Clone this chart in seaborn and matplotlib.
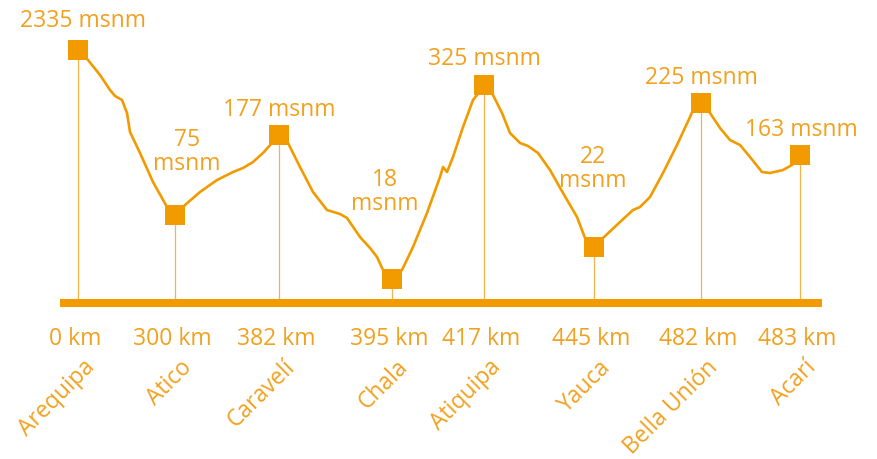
import pandas as pd
import matplotlib
matplotlib.use("Agg")
import matplotlib.pyplot as plt
import seaborn as sns

# ==========================================
# DATA
# ==========================================

places = ["Arequipa", "Atico", "Caravelí", "Chala", "Atiquipa", "Yauca", "Bella Unión", "Acarí"]
km = [0, 300, 382, 395, 417, 445, 482, 483]
elevation = [2335, 75, 177, 18, 325, 22, 225, 163]

# stylised profile: stop position along the route and drawn height above the base line
stop_pos = [78, 175, 279, 392, 484, 594, 701, 800]
stop_height = [253, 88, 168, 24, 218, 56, 200, 148]

# traced profile line (position, height)
profile_pos = [78, 88, 100, 110, 115, 122, 127, 130, 140, 153, 167, 175,
               185, 200, 217, 233, 243, 253, 263, 272, 279,
               288, 300, 313, 327, 340, 347, 360, 370, 377, 383, 392,
               402, 413, 427, 440, 443, 447, 453, 463, 473, 477, 484,
               493, 502, 510, 520, 528, 538, 550, 563, 577, 585, 594,
               603, 620, 633, 640, 650, 663, 677, 690, 693, 702,
               710, 720, 730, 740, 750, 762, 770, 783, 792, 800]
profile_height = [253, 243, 228, 213, 207, 203, 190, 171, 150, 121, 96, 88,
                  98, 111, 123, 131, 135, 141, 150, 160, 168,
                  160, 136, 111, 93, 89, 85, 66, 55, 46, 33, 24,
                  33, 56, 90, 126, 136, 131, 146, 176, 203, 208, 218,
                  208, 190, 170, 160, 157, 150, 133, 110, 86, 65, 56,
                  65, 81, 93, 96, 106, 130, 158, 186, 193, 200,
                  190, 175, 163, 158, 146, 131, 130, 133, 138, 148]

# label layout
two_line = [False, True, False, True, False, True, False, False]
label_dx = [5, 12, 0, -7, 0, -1, 0, 1]
label_dy = [29, 63, 25, 87, 26, 78, 25, 25]

stops = pd.DataFrame({"place": places, "km": km, "elev": elevation,
                      "pos": stop_pos, "height": stop_height})
profile = pd.DataFrame({"pos": profile_pos, "height": profile_height})

# ==========================================
# PLOT
# ==========================================

orange = "#F29B00"
text_orange = "#F2A11E"

sns.set_style("white")
plt.rcParams["font.family"] = ["Open Sans", "DejaVu Sans"]

fig = plt.figure(figsize=(8.78, 4.59), dpi=100)
ax = fig.add_axes([0, 0, 1, 1])

# vertical stems
for p, h in zip(stops["pos"], stops["height"]):
    ax.plot([p, p], [0, h], color="#F4B24A", lw=0.9, zorder=1)

# base line
ax.plot([60, 822], [0, 0], color=orange, lw=5.8, solid_capstyle="butt", zorder=2)

sns.lineplot(data=profile, x="pos", y="height", sort=False, estimator=None,
             color=orange, linewidth=1.9, ax=ax, zorder=3)
ax.lines[-1].set_solid_joinstyle("round")

sns.scatterplot(data=stops, x="pos", y="height", marker="s", s=190,
                color=orange, edgecolor="none", ax=ax, zorder=4)

fs = 16.5
for i, row in stops.iterrows():
    if two_line[i]:
        txt = f"{row['elev']}\nmsnm"
    else:
        txt = f"{row['elev']} msnm"
    ax.text(row["pos"] + label_dx[i], row["height"] + label_dy[i], txt,
            ha="center", va="center", fontsize=fs, color=text_orange, linespacing=1.05)
    ax.text(row["pos"] - 3, -36, f"{row['km']} km", ha="center", va="center",
            fontsize=fs, color=text_orange)
    ax.text(row["pos"] + 13, -61, row["place"], ha="right", va="center",
            rotation=45, rotation_mode="anchor", fontsize=fs, color=text_orange)

ax.set_xlim(0, 878)
ax.set_ylim(-156, 303)
ax.axis("off")

plt.savefig("out.png", dpi=100)
